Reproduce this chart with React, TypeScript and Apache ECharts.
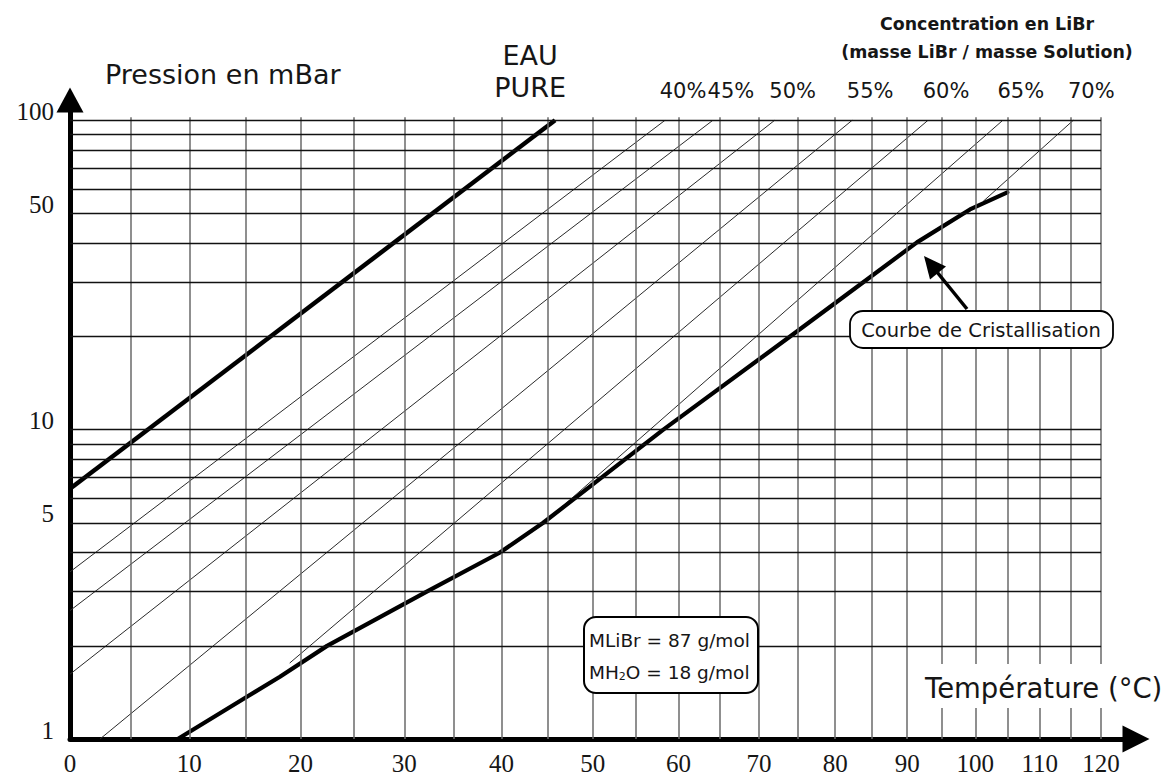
import React, { useEffect, useRef } from "react";
import * as echarts from "echarts";

// ---- scales of the diagram: x = inverse absolute temperature, y = log10(pressure)
const T0 = 273.15;
const tx = (t: number) => 1000 * (1 / T0 - 1 / (t + T0));
const txInv = (x: number) => 1 / (1 / T0 - x / 1000) - T0;
const py = (p: number) => Math.log10(p);

// ---- data
const TEMP_TICKS = [0, 10, 20, 30, 40, 50, 60, 70, 80, 90, 100, 110, 120];
const TEMP_GRID = [5, 10, 15, 20, 25, 30, 35, 40, 45, 50, 55, 60, 65, 70, 75, 80, 85, 90, 95, 100, 105, 110, 115, 120];
const PRESSURE_TICKS = [1, 5, 10, 50, 100];
const PRESSURE_GRID = [2, 3, 4, 5, 6, 7, 8, 9, 10, 20, 30, 40, 50, 60, 70, 80, 90, 100];

const WATER_T = [0, 45.8];
const WATER_P = [6.44, 100];

const LIBR_LABELS = ["40%", "45%", "50%", "55%", "60%", "65%", "70%"];
const LIBR_T = [
  [0, 58.4],
  [0, 64.2],
  [0, 72.0],
  [2.45, 82.3],
  [19.0, 93.0],
  [44.7, 104.2],
  [101.2, 115.4],
];
const LIBR_P = [
  [3.47, 100],
  [2.6, 100],
  [1.62, 100],
  [1.0, 100],
  [1.76, 100],
  [5.04, 100],
  [54.7, 100],
];

const CRYST_T = [9.0, 15.1, 18.1, 22.5, 32.3, 39.8, 44.5, 58.2, 74.0, 80.6, 91.4, 99.2, 104.9];
const CRYST_P = [1.0, 1.37, 1.59, 2.0, 3.0, 4.0, 5.0, 10.0, 20.0, 26.3, 40.3, 51.5, 58.5];

const X_AXIS_END = 1.1412; // axis line runs a little past 120 °C
const Y_AXIS_END = 2.03; // axis line runs a little past 100 mbar

const SANS = "DejaVu Sans";
const SERIF = "Liberation Serif";
const INK = "#161616";

function App() {
  const ref = useRef<HTMLDivElement>(null);

  useEffect(() => {
    if (!ref.current) return;
    const chart = echarts.init(ref.current, null, { renderer: "svg" });

    const toPts = (ts: number[], ps: number[]) => ts.map((t, i) => [tx(t), py(ps[i])]);

    const libSeries = LIBR_LABELS.map((name, i) => {
      const pts = toPts(LIBR_T[i], LIBR_P[i]);
      return {
        name,
        type: "line",
        data: pts,
        symbol: "none",
        silent: true,
        z: 3,
        lineStyle: { color: "#2a2a2a", width: 1 },
        markPoint: {
          silent: true,
          symbol: "circle",
          symbolSize: 0,
          data: [
            {
              coord: pts[pts.length - 1],
              label: {
                show: true,
                position: "top",
                distance: 19,
                offset: [18, 0],
                formatter: name,
                fontFamily: SANS,
                fontSize: 21,
                color: INK,
              },
            },
          ],
        },
      };
    });

    const waterPts = toPts(WATER_T, WATER_P);

    const option: any = {
      animation: false,
      backgroundColor: "#ffffff",
      grid: { left: 70, right: 47, top: 111, bottom: 37, containLabel: false, outerBoundsMode: "none" },
      xAxis: {
        type: "value",
        min: 0,
        max: X_AXIS_END,
        axisLine: {
          show: true,
          onZero: false,
          symbol: ["none", "triangle"],
          symbolSize: [27, 27],
          symbolOffset: [0, 13],
          lineStyle: { color: "#000", width: 5 },
        },
        axisTick: { show: false },
        splitLine: { show: false },
        axisLabel: {
          customValues: TEMP_TICKS.map(tx),
          formatter: (v: number) => String(Math.round(txInv(v))),
          fontFamily: SERIF,
          fontSize: 25,
          color: INK,
          margin: 12,
        },
      },
      yAxis: {
        type: "value",
        min: 0,
        max: Y_AXIS_END,
        axisLine: {
          show: true,
          onZero: false,
          symbol: ["none", "triangle"],
          symbolSize: [27, 25],
          symbolOffset: [0, 11],
          lineStyle: { color: "#000", width: 5 },
        },
        axisTick: { show: false },
        splitLine: { show: false },
        axisLabel: {
          customValues: PRESSURE_TICKS.map(py),
          formatter: (v: number) => String(Math.round(Math.pow(10, v))),
          fontFamily: SERIF,
          fontSize: 25,
          color: INK,
          margin: 16,
          lineHeight: 18,
          verticalAlign: "bottom",
        },
      },
      series: [
        {
          name: "grid-v",
          type: "line",
          data: [],
          silent: true,
          z: 1,
          markLine: {
            silent: true,
            symbol: "none",
            label: { show: false },
            lineStyle: { color: "#6a6a6a", width: 1.5, type: "solid" },
            data: TEMP_GRID.map((t) => [{ coord: [tx(t), 0] }, { coord: [tx(t), py(100) + 0.01] }]),
          },
        },
        {
          name: "grid-h",
          type: "line",
          data: [],
          silent: true,
          z: 1,
          markLine: {
            silent: true,
            symbol: "none",
            label: { show: false },
            lineStyle: { color: "#111", width: 1.4, type: "solid" },
            data: PRESSURE_GRID.map((p) => [{ coord: [0, py(p)] }, { coord: [tx(120), py(p)] }]),
          },
        },
        ...libSeries,
        {
          name: "EAU PURE",
          type: "line",
          data: waterPts,
          symbol: "none",
          silent: true,
          z: 4,
          lineStyle: { color: "#000", width: 4.5 },
          markPoint: {
            silent: true,
            symbol: "circle",
            symbolSize: 0,
            data: [
              {
                coord: waterPts[waterPts.length - 1],
                label: {
                  show: true,
                  position: "top",
                  distance: 17,
                  offset: [-25, 0],
                  formatter: "EAU\nPURE",
                  fontFamily: SANS,
                  fontSize: 27,
                  lineHeight: 32,
                  align: "center",
                  color: INK,
                },
              },
            ],
          },
        },
        {
          name: "Courbe de Cristallisation",
          type: "line",
          data: toPts(CRYST_T, CRYST_P),
          symbol: "none",
          silent: true,
          z: 4,
          lineStyle: { color: "#000", width: 4.2, join: "round", cap: "round" },
        },
      ],
      graphic: [
        {
          type: "text",
          x: 105,
          y: 74,
          z: 100,
          style: { text: "Pression en mBar", fontFamily: SANS, fontSize: 27, fill: INK, verticalAlign: "middle", align: "left" },
        },
        {
          type: "text",
          x: 987,
          y: 24,
          z: 100,
          style: { text: "Concentration en LiBr", fontFamily: SANS, fontSize: 17.4, fontWeight: "bold", fill: INK, align: "center", verticalAlign: "middle" },
        },
        {
          type: "text",
          x: 987,
          y: 52,
          z: 100,
          style: { text: "(masse LiBr / masse Solution)", fontFamily: SANS, fontSize: 17.4, fontWeight: "bold", fill: INK, align: "center", verticalAlign: "middle" },
        },
        {
          type: "rect",
          z: 100,
          shape: { x: 918, y: 664, width: 195, height: 44 },
          style: { fill: "#fff" },
        },
        {
          type: "text",
          x: 925,
          y: 688,
          z: 101,
          style: { text: "Température (°C)", fontFamily: SANS, fontSize: 27.5, fill: INK, align: "left", verticalAlign: "middle" },
        },
        {
          type: "rect",
          z: 100,
          shape: { x: 850, y: 311, width: 263, height: 37, r: 13 },
          style: { fill: "#fff", stroke: "#000", lineWidth: 1.8 },
        },
        {
          type: "text",
          x: 981,
          y: 330,
          z: 101,
          style: { text: "Courbe de Cristallisation", fontFamily: SANS, fontSize: 19.5, fill: INK, align: "center", verticalAlign: "middle" },
        },
        {
          type: "line",
          z: 100,
          shape: { x1: 967, y1: 309, x2: 937, y2: 272 },
          style: { stroke: "#000", lineWidth: 3.5 },
        },
        {
          type: "polygon",
          z: 100,
          shape: { points: [[924, 256], [946, 266.6], [930, 279.4]] },
          style: { fill: "#000" },
        },
        {
          type: "rect",
          z: 100,
          shape: { x: 584, y: 617, width: 174, height: 76, r: 12 },
          style: { fill: "#fff", stroke: "#000", lineWidth: 2 },
        },
        {
          type: "text",
          x: 589,
          y: 640,
          z: 101,
          style: { text: "MLiBr = 87 g/mol", fontFamily: SANS, fontSize: 18.5, fill: INK, align: "left", verticalAlign: "middle" },
        },
        {
          type: "text",
          x: 589,
          y: 672,
          z: 101,
          style: {
            text: "{a|MH}{s|2}{a|O = 18 g/mol}",
            align: "left",
            verticalAlign: "middle",
            fill: INK,
            rich: {
              a: { fontFamily: SANS, fontSize: 18.5, fill: INK },
              s: { fontFamily: SANS, fontSize: 11, fill: INK, padding: [9, 0, 0, 0] },
            },
          },
        },
      ],
    };

    chart.setOption(option);
    return () => chart.dispose();
  }, []);

  return (
    <div
      ref={ref}
      style={{ position: "absolute", left: 0, top: 0, width: 1170, height: 776, background: "#fff" }}
    />
  );
}

export default App;
